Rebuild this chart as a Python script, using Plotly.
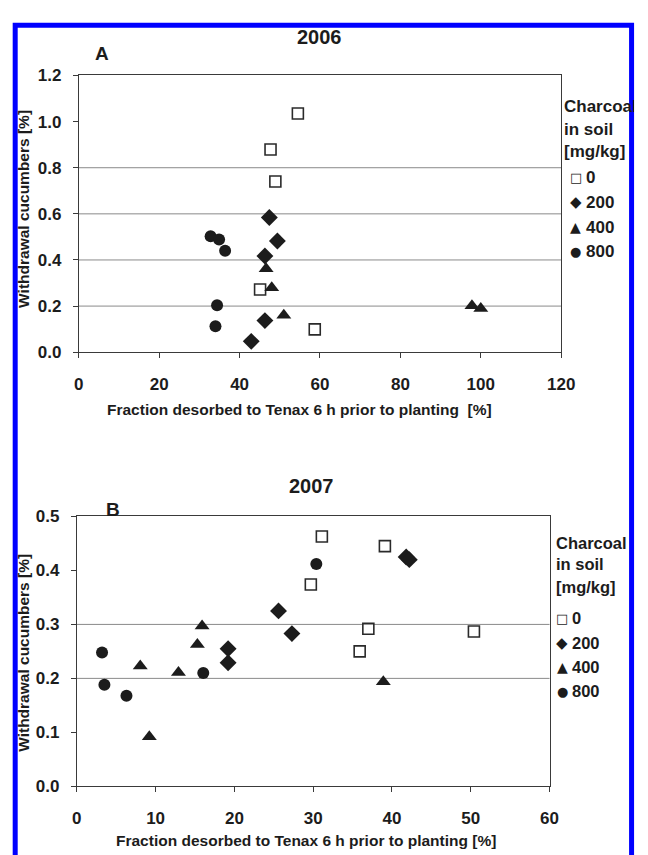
import plotly.graph_objects as go

W, H = 648, 855

# ---------------- data ----------------
# 2006 (panel A)
a_x_0 = [54.5, 47.7, 48.9, 45.1, 58.7]
a_y_0 = [1.035, 0.879, 0.740, 0.272, 0.099]
a_x_200 = [47.4, 49.4, 46.3, 46.3, 42.9]
a_y_200 = [0.584, 0.482, 0.417, 0.137, 0.047]
a_x_400 = [46.6, 48.0, 51.0, 97.8, 100.0]
a_y_400 = [0.362, 0.280, 0.160, 0.201, 0.190]
a_x_800 = [32.8, 34.9, 36.4, 34.4, 34.0]
a_y_800 = [0.503, 0.489, 0.440, 0.204, 0.113]

# 2007 (panel B)
b_x_0 = [31.1, 29.7, 39.1, 37.0, 50.4, 35.9]
b_y_0 = [0.463, 0.374, 0.445, 0.292, 0.287, 0.250]
b_x_200 = [25.6, 27.3, 19.2, 19.2, 41.8, 42.2]
b_y_200 = [0.325, 0.283, 0.255, 0.229, 0.425, 0.420]
b_x_400 = [15.9, 15.3, 8.05, 12.9, 9.2, 38.9]
b_y_400 = [0.297, 0.263, 0.223, 0.211, 0.092, 0.194]
b_x_800 = [30.4, 3.2, 16.05, 3.5, 6.3]
b_y_800 = [0.412, 0.248, 0.210, 0.188, 0.168]

charcoal_levels = ["0", "200", "400", "800"]
legend_glyphs = ["\u25A1", "\u25C6", "\u25B2", "\u25CF"]
legend_glyph_sizes = [13, 15, 14, 13]
grid_top = [0.2, 0.4, 0.6, 0.8]
grid_bottom = [0.2, 0.3]
x_title = "Fraction desorbed to Tenax 6 h prior to planting  [%]"
x_title_b = "Fraction desorbed to Tenax 6 h prior to planting [%]"
y_title = "Withdrawal cucumbers [%]"

FONT = "Liberation Sans, Arial, DejaVu Sans, sans-serif"
GLYPH_FONT = "DejaVu Sans, sans-serif"
INK = "#1c1c1c"


def px(x):
    return x / W


def py(y):
    return 1 - y / H


fig = go.Figure()

styles = {
    "0": dict(symbol="square-open", size=11, color="#2a2a2a", line=dict(width=1.6, color="#2a2a2a")),
    "200": dict(symbol="diamond", size=13, color=INK, line=dict(width=0)),
    "400": dict(symbol="triangle-up", size=13, color=INK, line=dict(width=0)),
    "800": dict(symbol="circle", size=12, color=INK, line=dict(width=0)),
}

panel_a = {"0": (a_x_0, a_y_0), "200": (a_x_200, a_y_200), "400": (a_x_400, a_y_400), "800": (a_x_800, a_y_800)}
panel_b = {"0": (b_x_0, b_y_0), "200": (b_x_200, b_y_200), "400": (b_x_400, b_y_400), "800": (b_x_800, b_y_800)}

for lvl in charcoal_levels:
    xs, ys = panel_a[lvl]
    fig.add_trace(go.Scatter(x=xs, y=ys, mode="markers", marker=styles[lvl], xaxis="x", yaxis="y",
                             showlegend=False, name=lvl))
for lvl in charcoal_levels:
    xs, ys = panel_b[lvl]
    fig.add_trace(go.Scatter(x=xs, y=ys, mode="markers", marker=styles[lvl], xaxis="x2", yaxis="y2",
                             showlegend=False, name=lvl))

tickfont = dict(family=FONT, size=17, color=INK, weight="bold")
axis_common = dict(showgrid=False, zeroline=False, showline=True, linecolor="#3a3a3a", linewidth=1,
                   mirror=True, ticks="outside", ticklen=5, tickcolor="#3a3a3a", tickfont=tickfont)

fig.update_layout(
    width=W, height=H,
    margin=dict(l=0, r=0, t=0, b=0),
    paper_bgcolor="white", plot_bgcolor="white",
    xaxis=dict(domain=[px(76), px(573)], range=[0, 120], dtick=20, anchor="y",
               ticklabelstandoff=11, **axis_common),
    yaxis=dict(domain=[py(351), py(68)], range=[0, 1.2], dtick=0.2, tickformat=".1f", anchor="x",
               ticklabelstandoff=8, **axis_common),
    xaxis2=dict(domain=[px(74), px(561)], range=[0, 60], dtick=10, anchor="y2",
                ticklabelstandoff=11, **axis_common),
    yaxis2=dict(domain=[py(795), py(519)], range=[0, 0.5], dtick=0.1, tickformat=".1f", anchor="x2",
                ticklabelstandoff=8, **axis_common),
)

shapes = []
for g in grid_top:
    shapes.append(dict(type="line", xref="x domain", yref="y", x0=0, x1=1, y0=g, y1=g,
                       line=dict(color="#8a8a8a", width=1), layer="below"))
for g in grid_bottom:
    shapes.append(dict(type="line", xref="x2 domain", yref="y2", x0=0, x1=1, y0=g, y1=g,
                       line=dict(color="#8a8a8a", width=1), layer="below"))
# blue frame around the figure (its bottom edge lies below the page)
shapes.append(dict(type="rect", xref="paper", yref="paper", x0=px(10.5), x1=px(645.5), y0=-0.03, y1=py(16.5),
                   line=dict(color="#0000ff", width=5), fillcolor="rgba(0,0,0,0)", layer="above"))
fig.update_layout(shapes=shapes)

ann = []


def text(t, x, y, size, xanchor="center", yanchor="middle", angle=0, width=None, weight="bold", family=FONT):
    d = dict(text=t, x=px(x), y=py(y), xref="paper", yref="paper", showarrow=False,
             xanchor=xanchor, yanchor=yanchor, textangle=angle,
             font=dict(family=family, size=size, color=INK, weight=weight))
    if width is not None:
        d["width"] = width
        d["align"] = "left"
    ann.append(d)


# titles and panel letters
text("2006", 324, 29, 20)
text("A", 100, 46, 19)
text("2007", 316, 488, 20)
text("B", 111, 512, 19)
# axis titles
text(x_title, 303, 410, 15.5)
text(x_title_b, 310, 850, 15.5)
text(y_title, 19, 204, 15.5, angle=-90)
text(y_title, 19, 658, 15.5, angle=-90)

# legend A (its last letter is hidden behind the blue frame, as in the original)
text("Charcoal", 574, 100, 17, xanchor="left", width=70)
text("in soil", 574, 123, 17, xanchor="left")
text("[mg/kg]", 574, 146, 17, xanchor="left")
for i, (g, gs, lvl) in enumerate(zip(legend_glyphs, legend_glyph_sizes, charcoal_levels)):
    yy = 172 + i * 25.5
    text(g, 588, yy, gs, weight="normal", family=GLYPH_FONT)
    text(lvl, 597, yy, 17, xanchor="left")

# legend B
text("Charcoal", 566, 546, 16.5, xanchor="left")
text("in soil", 566, 568, 16.5, xanchor="left")
text("[mg/kg]", 566, 591, 16.5, xanchor="left")
for i, (g, gs, lvl) in enumerate(zip(legend_glyphs, legend_glyph_sizes, charcoal_levels)):
    yy = 623 + i * 25
    text(g, 574, yy, gs, weight="normal", family=GLYPH_FONT)
    text(lvl, 582, yy, 16.5, xanchor="left")

fig.update_layout(annotations=ann)

fig.write_html("out.html", config={"displayModeBar": False},
               post_script="document.body.style.margin='0px';document.body.style.overflow='hidden';"
                           "document.documentElement.style.overflow='hidden';")
